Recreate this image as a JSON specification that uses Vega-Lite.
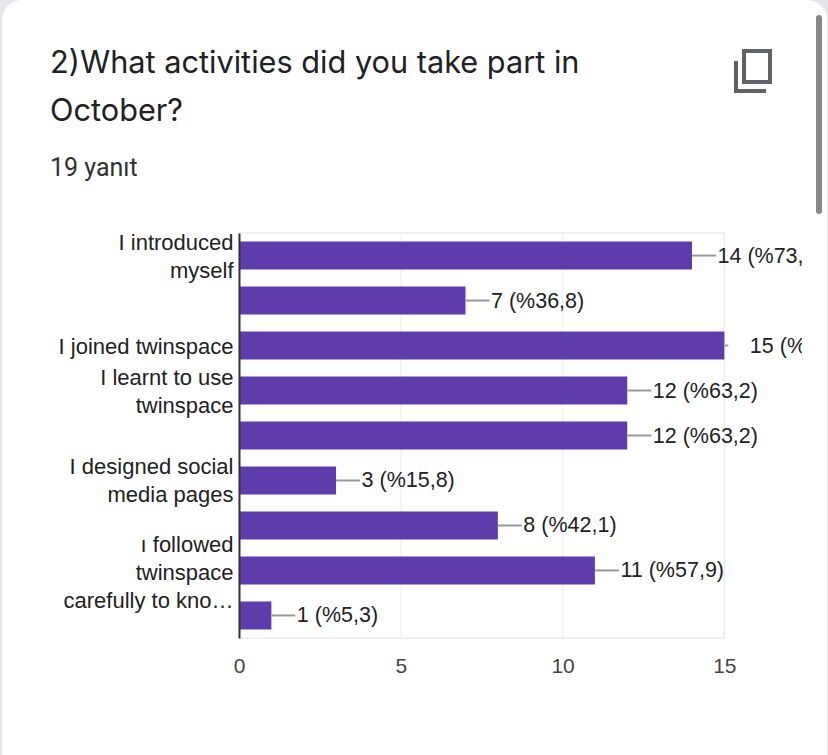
{
  "$schema": "https://vega.github.io/schema/vega-lite/v6.json",
  "width": 563,
  "height": 405,
  "autosize": "none",
  "padding": {"left": 239, "top": 233, "right": 26, "bottom": 117},
  "background": "#e6e6ec",
  "view": {"stroke": null},
  "title": {
    "text": ["2)What activities did you take part in", "October?"],
    "subtitle": "19 yanıt",
    "anchor": "start",
    "frame": "group",
    "dx": -189,
    "offset": -182,
    "font": "Inter",
    "fontSize": 30.7,
    "fontWeight": 400,
    "lineHeight": 48,
    "color": "#202124",
    "subtitleFont": "Roboto",
    "subtitleFontSize": 25,
    "subtitleColor": "#303134",
    "subtitlePadding": 28
  },
  "datasets": {
    "answers": [
      {"activity": "I introduced|myself", "count": 14, "label": "14 (%73,7)"},
      {"activity": " ", "count": 7, "label": "7 (%36,8)"},
      {"activity": "I joined twinspace", "count": 15, "label": "15 (%78,9)"},
      {"activity": "I learnt to use|twinspace", "count": 12, "label": "12 (%63,2)"},
      {"activity": "  ", "count": 12, "label": "12 (%63,2)"},
      {"activity": "I designed social|media pages", "count": 3, "label": "3 (%15,8)"},
      {"activity": "   ", "count": 8, "label": "8 (%42,1)"},
      {"activity": "ı followed|twinspace|carefully to kno…", "count": 11, "label": "11 (%57,9)"},
      {"activity": "    ", "count": 1, "label": "1 (%5,3)"}
    ]
  },
  "data": {"name": "answers"},
  "encoding": {
    "y": {
      "field": "activity",
      "type": "nominal",
      "sort": null,
      "title": null,
      "scale": {"paddingInner": 0.378, "paddingOuter": 0.19},
      "axis": {
        "zindex": 1,
        "ticks": false,
        "domainColor": "#333333",
        "domainWidth": 2,
        "labelFont": "Liberation Sans",
        "labelFontSize": 22,
        "labelColor": "#222222",
        "labelPadding": 6,
        "labelLimit": 220,
        "labelOverlap": false,
        "labelLineHeight": 28,
        "labelOffset": {
          "condition": [
            {"test": "length(split(datum.label, '|')) == 3", "value": -25},
            {"test": "length(split(datum.label, '|')) == 2", "value": -13}
          ],
          "value": 1
        },
        "labelExpr": "split(datum.label, '|')"
      }
    }
  },
  "layer": [
    {
      "data": {"values": [{"part": "card"}]},
      "mark": {"type": "rect", "fill": "#ffffff", "cornerRadius": 20, "clip": false},
      "encoding": {
        "y": {"value": -233},
        "y2": {"value": 540},
        "x": {"value": -237},
        "x2": {"value": 588}
      }
    },
    {
      "data": {"values": [{"tick": 5}, {"tick": 10}]},
      "mark": {"type": "rule", "color": "#f5f5f5", "strokeWidth": 2},
      "encoding": {
        "y": null,
        "x": {
          "field": "tick",
          "type": "quantitative",
          "title": null,
          "scale": {"domain": [0, 17.4], "nice": false, "zero": false},
          "axis": {
            "zindex": 1,
            "values": [0, 5, 10, 15],
            "grid": false,
            "ticks": false,
            "domain": false,
            "labelFont": "Liberation Sans",
            "labelFontSize": 21,
            "labelColor": "#444444",
            "labelPadding": 17,
            "labelFlush": false,
            "format": "d"
          }
        }
      }
    },
    {
      "data": {"values": [{"from": 0, "to": 15}]},
      "mark": {"type": "rect", "fill": null, "stroke": "#f0f0f0", "strokeWidth": 2},
      "encoding": {
        "y": null,
        "x": {"field": "from", "type": "quantitative"},
        "x2": {"field": "to"}
      }
    },
    {
      "mark": {"type": "bar", "color": "#5f3cab"},
      "encoding": {"x": {"field": "count", "type": "quantitative"}}
    },
    {
      "transform": [{"filter": "datum.count < 15"}],
      "mark": {"type": "rule", "color": "#999999", "strokeWidth": 2, "x2Offset": 24},
      "encoding": {
        "x": {"field": "count", "type": "quantitative"},
        "x2": {"field": "count"}
      }
    },
    {
      "transform": [{"filter": "datum.count == 15"}],
      "mark": {"type": "rule", "color": "#999999", "strokeWidth": 2, "x2Offset": 4},
      "encoding": {
        "x": {"field": "count", "type": "quantitative"},
        "x2": {"field": "count"}
      }
    },
    {
      "mark": {
        "type": "text",
        "align": "left",
        "baseline": "middle",
        "dx": 25.5,
        "dy": 1,
        "clip": true,
        "font": "Liberation Sans",
        "fontSize": 21.5,
        "color": "#222222"
      },
      "encoding": {
        "x": {"field": "count", "type": "quantitative"},
        "text": {"field": "label"}
      }
    },
    {
      "data": {"values": [{"part": "scrollbar"}]},
      "mark": {"type": "rule", "color": "#888888", "strokeWidth": 6, "strokeCap": "round", "clip": false},
      "encoding": {
        "y": {"value": -215},
        "y2": {"value": -22},
        "x": {"value": 580}
      }
    },
    {
      "data": {"values": [{"part": "copy icon"}]},
      "mark": {
        "type": "point",
        "shape": "M-0.85,-0.5V1H0.65M-0.45,-1H0.85V0.55H-0.45Z",
        "filled": false,
        "stroke": "#5f6368",
        "strokeWidth": 4,
        "opacity": 1,
        "size": 1600,
        "clip": false
      },
      "encoding": {
        "y": {"value": -162},
        "x": {"value": 514}
      }
    }
  ]
}
